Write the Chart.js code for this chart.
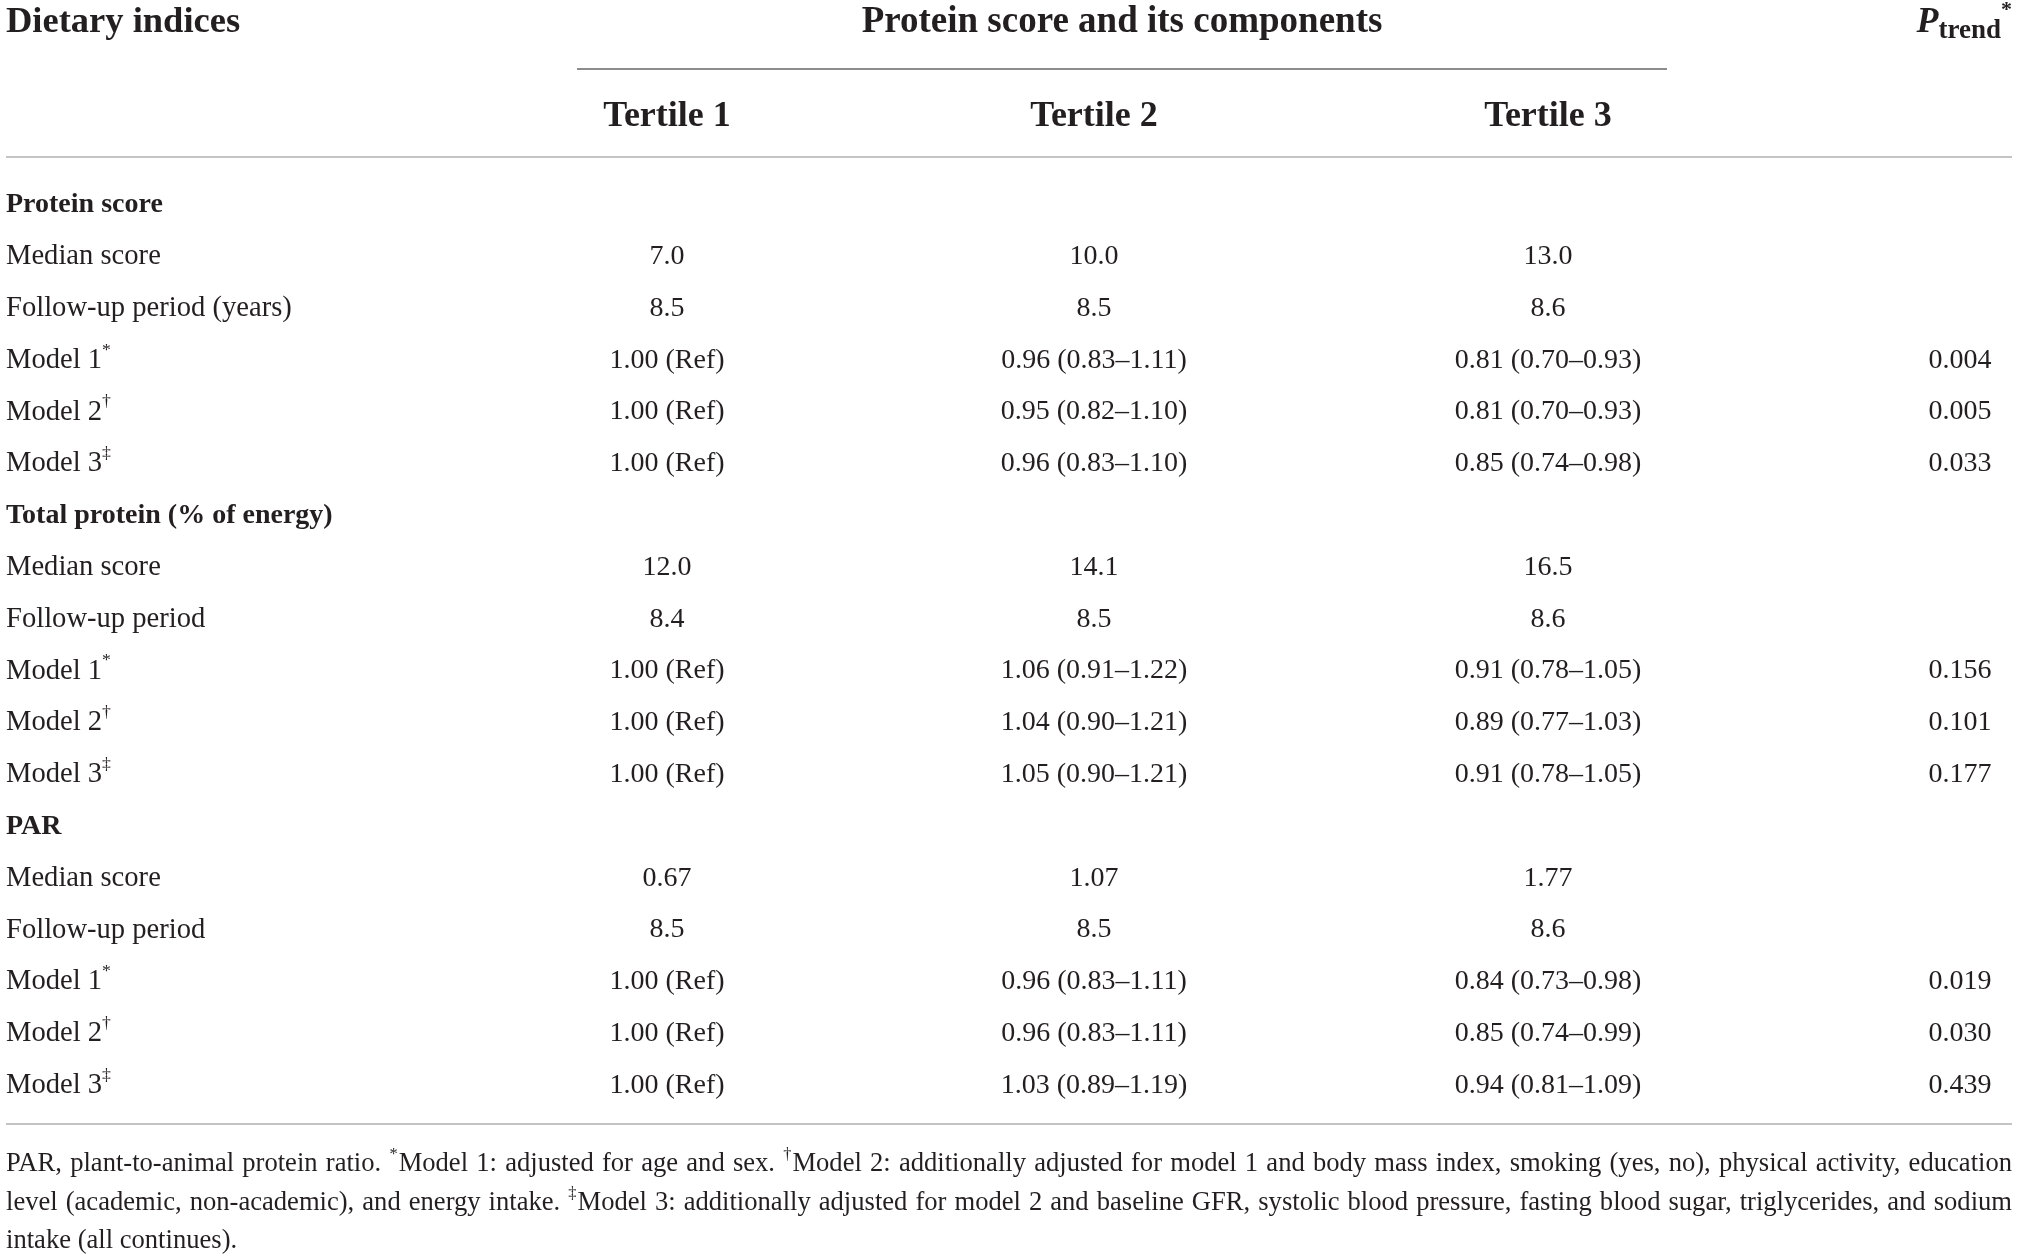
<!DOCTYPE html>
<html>
<head>
<meta charset="utf-8">
<title>Protein score and its components</title>
<script src="https://cdn.jsdelivr.net/npm/chart.js@4.4.1/dist/chart.umd.min.js"></script>
<style>
  html, body { margin: 0; padding: 0; background: #fff; }
  #wrap { width: 2019px; height: 1256px; position: relative; }
</style>
</head>
<body>
<div id="wrap"><canvas id="tableChart"></canvas></div>
<script>
// ---- table content ----
const headTitle = 'Dietary indices';
const spanTitle = 'Protein score and its components';
const tertileHeads = ['Tertile 1', 'Tertile 2', 'Tertile 3'];

const rowLabels = [
  'Protein score', 'Median score', 'Follow-up period (years)', 'Model 1*', 'Model 2†', 'Model 3‡',
  'Total protein (% of energy)', 'Median score', 'Follow-up period', 'Model 1*', 'Model 2†', 'Model 3‡',
  'PAR', 'Median score', 'Follow-up period', 'Model 1*', 'Model 2†', 'Model 3‡'
];
const groupRows = [0, 6, 12];

const tertile1 = [
  null, '7.0', '8.5', '1.00 (Ref)', '1.00 (Ref)', '1.00 (Ref)',
  null, '12.0', '8.4', '1.00 (Ref)', '1.00 (Ref)', '1.00 (Ref)',
  null, '0.67', '8.5', '1.00 (Ref)', '1.00 (Ref)', '1.00 (Ref)'
];
const tertile2 = [
  null, '10.0', '8.5', '0.96 (0.83–1.11)', '0.95 (0.82–1.10)', '0.96 (0.83–1.10)',
  null, '14.1', '8.5', '1.06 (0.91–1.22)', '1.04 (0.90–1.21)', '1.05 (0.90–1.21)',
  null, '1.07', '8.5', '0.96 (0.83–1.11)', '0.96 (0.83–1.11)', '1.03 (0.89–1.19)'
];
const tertile3 = [
  null, '13.0', '8.6', '0.81 (0.70–0.93)', '0.81 (0.70–0.93)', '0.85 (0.74–0.98)',
  null, '16.5', '8.6', '0.91 (0.78–1.05)', '0.89 (0.77–1.03)', '0.91 (0.78–1.05)',
  null, '1.77', '8.6', '0.84 (0.73–0.98)', '0.85 (0.74–0.99)', '0.94 (0.81–1.09)'
];
const pTrend = [
  null, null, null, '0.004', '0.005', '0.033',
  null, null, null, '0.156', '0.101', '0.177',
  null, null, null, '0.019', '0.030', '0.439'
];

const footnotes = [
  'PAR, plant-to-animal protein ratio. *Model 1: adjusted for age and sex. †Model 2: additionally adjusted for model 1 and body mass index, smoking (yes, no), physical activity, education',
  'level (academic, non-academic), and energy intake. ‡Model 3: additionally adjusted for model 2 and baseline GFR, systolic blood pressure, fasting blood sugar, triglycerides, and sodium',
  'intake (all continues).'
];

// ---- layout (x in canvas units, y in row units) ----
const colX = [6, 667, 1094, 1548, 1960];
const rightEdge = 2012;
const headY = -3.52, tertileY = -1.695, spanLineY = -2.62, topRuleY = -0.92, bottomRuleY = 17.74;
const spanLine = [577, 1667];
const noteY = [18.52, 19.265, 20.01];

const FONT = '"Liberation Serif", "Times New Roman", serif';
const INK = '#231f20';
const SUPS = '*†‡';

function runs(str) {
  const out = [];
  for (const ch of str) {
    const sup = SUPS.includes(ch);
    if (out.length && out[out.length - 1].sup === sup) out[out.length - 1].t += ch;
    else out.push({ t: ch, sup });
  }
  return out;
}

function richWidth(ctx, str, size, weight) {
  let w = 0;
  runs(str).forEach(r => {
    ctx.font = `${weight} ${r.sup ? size * 0.62 : size}px ${FONT}`;
    w += ctx.measureText(r.t).width + (r.sup ? 1 : 0);
  });
  return w;
}

function drawRich(ctx, str, x, y, align, size, weight) {
  const w = richWidth(ctx, str, size, weight);
  let cx = align === 'center' ? x - w / 2 : align === 'right' ? x - w : x;
  ctx.textAlign = 'left';
  ctx.textBaseline = 'middle';
  runs(str).forEach(r => {
    const s = r.sup ? size * 0.62 : size;
    ctx.font = `${weight} ${s}px ${FONT}`;
    ctx.fillText(r.t, cx, r.sup ? y - size * 0.36 : y);
    cx += ctx.measureText(r.t).width + (r.sup ? 1 : 0);
  });
}

function drawJustified(ctx, str, x0, x1, y, size, justify) {
  const words = str.split(' ');
  const widths = words.map(wd => richWidth(ctx, wd, size, 'normal'));
  const total = widths.reduce((a, b) => a + b, 0);
  const gap = justify ? (x1 - x0 - total) / (words.length - 1) : richWidth(ctx, ' ', size, 'normal');
  let cx = x0;
  words.forEach((wd, i) => {
    drawRich(ctx, wd, cx, y, 'left', size, 'normal');
    cx += widths[i] + gap;
  });
}

const tablePlugin = {
  id: 'tableText',
  afterDatasetsDraw(chart) {
    const { ctx, scales: { x, y } } = chart;
    ctx.save();
    ctx.fillStyle = INK;

    // rules
    const rule = (xa, xb, yv, color) => {
      ctx.strokeStyle = color;
      ctx.lineWidth = 2;
      ctx.beginPath();
      const py = Math.round(y.getPixelForValue(yv));
      ctx.moveTo(x.getPixelForValue(xa), py);
      ctx.lineTo(x.getPixelForValue(xb), py);
      ctx.stroke();
    };
    rule(spanLine[0], spanLine[1], spanLineY, '#8c8c8c');
    rule(colX[0], rightEdge, topRuleY, '#c4c4c4');
    rule(colX[0], rightEdge, bottomRuleY, '#c4c4c4');

    // header texts
    drawRich(ctx, headTitle, x.getPixelForValue(colX[0]), y.getPixelForValue(headY), 'left', 36.5, 'bold');
    drawRich(ctx, spanTitle, x.getPixelForValue((spanLine[0] + spanLine[1]) / 2), y.getPixelForValue(headY), 'center', 37, 'bold');
    tertileHeads.forEach((t, i) => {
      drawRich(ctx, t, x.getPixelForValue(colX[i + 1]), y.getPixelForValue(tertileY), 'center', 36, 'bold');
    });

    // P trend header
    const hy = y.getPixelForValue(headY);
    ctx.textBaseline = 'middle';
    ctx.textAlign = 'left';
    const parts = [
      { t: 'P', f: `italic bold 36px ${FONT}`, dy: 0 },
      { t: 'trend', f: `bold 27px ${FONT}`, dy: 9 },
      { t: '*', f: `bold 22px ${FONT}`, dy: -12 }
    ];
    let pw = 0;
    parts.forEach(p => { ctx.font = p.f; p.w = ctx.measureText(p.t).width; pw += p.w; });
    let px = x.getPixelForValue(rightEdge) - pw;
    parts.forEach(p => { ctx.font = p.f; ctx.fillText(p.t, px, hy + p.dy); px += p.w; });

    // cells
    chart.data.datasets.forEach((ds, di) => {
      const meta = chart.getDatasetMeta(di);
      meta.data.forEach((pt, i) => {
        const raw = ds.data[i];
        const bold = ds.isLabel && groupRows.includes(raw.y);
        const size = ds.isLabel && !bold ? 28.6 : 28;
        drawRich(ctx, raw.t, pt.x, pt.y, ds.align, size, bold ? 'bold' : 'normal');
      });
    });

    // footnotes
    footnotes.forEach((line, i) => {
      drawJustified(ctx, line, x.getPixelForValue(colX[0]), x.getPixelForValue(rightEdge), y.getPixelForValue(noteY[i]), 26.6, i < footnotes.length - 1);
    });
    ctx.restore();
  }
};

const columns = [
  { cells: rowLabels, align: 'left', isLabel: true },
  { cells: tertile1, align: 'center' },
  { cells: tertile2, align: 'center' },
  { cells: tertile3, align: 'center' },
  { cells: pTrend, align: 'center' }
];

const datasets = columns.map((c, ci) => ({
  label: 'col' + ci,
  align: c.align,
  isLabel: !!c.isLabel,
  data: c.cells.map((t, r) => ({ x: colX[ci], y: r, t })).filter(p => p.t),
  pointRadius: 0,
  pointHoverRadius: 0,
  showLine: false
}));

new Chart(document.getElementById('tableChart'), {
  type: 'scatter',
  data: { datasets },
  options: {
    responsive: true,
    maintainAspectRatio: false,
    devicePixelRatio: 1,
    animation: false,
    layout: { padding: 0 },
    events: [],
    plugins: { legend: { display: false }, tooltip: { enabled: false } },
    scales: {
      x: { type: 'linear', min: 0, max: 2019, display: false },
      y: { type: 'linear', min: -3.953, max: 20.29, reverse: true, display: false }
    }
  },
  plugins: [tablePlugin]
});
</script>
</body>
</html>
